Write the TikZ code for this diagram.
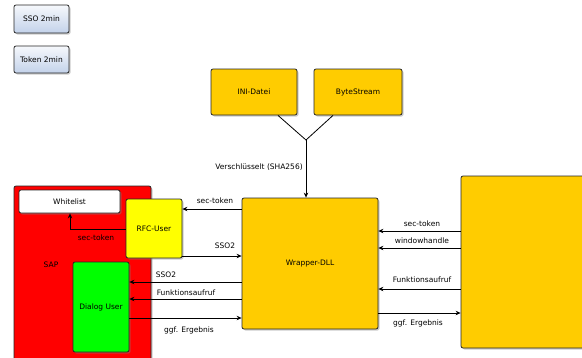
\documentclass[tikz,border=0pt]{standalone}
\usepackage{fontspec}
\setmainfont{DejaVu Sans}
\usetikzlibrary{shadows,arrows.meta}

\definecolor{dllgelb}{HTML}{FFCC00}
\definecolor{rfcgelb}{HTML}{FFFF00}
\definecolor{dialoggruen}{HTML}{00FF00}
\definecolor{saprot}{HTML}{FF0000}
\definecolor{hellblau}{HTML}{C3D2EA}

\begin{document}
\begin{tikzpicture}[x=1pt, y=-1pt,
    font=\fontsize{7.5}{9}\selectfont,
    box/.style={draw=black!85, line width=0.8pt, rounded corners=2pt, inner sep=0pt,
        drop shadow={shadow xshift=1.5pt, shadow yshift=-1.5pt, opacity=0.4}},
    conn/.style={-{Stealth[length=5pt, width=4.5pt]}, line width=0.8pt},
    lbl/.style={inner sep=0pt}]
    \useasboundingbox (0,0) rectangle (582,357);

    % Legende
    \node[box, top color=white!85!hellblau, bottom color=hellblau, minimum width=55pt, minimum height=28pt] (sso) at (41.5,19) {SSO 2min};
    \node[box, top color=white!85!hellblau, bottom color=hellblau, minimum width=55pt, minimum height=27pt] (token) at (41.5,59.5) {Token 2min};

    % Eingaben
    \node[box, fill=dllgelb, minimum width=86pt, minimum height=46pt] (ini) at (254,92) {INI-Datei};
    \node[box, fill=dllgelb, minimum width=88pt, minimum height=46pt] (byte) at (358,92) {ByteStream};

    % DLL und Anwendung
    \node[box, fill=dllgelb, minimum width=136pt, minimum height=131pt] (wrap) at (310,263.5) {Wrapper-DLL};
    \node[box, fill=dllgelb, minimum width=160pt, minimum height=172pt] (app) at (541,262) {};

    % SAP
    \node[box, fill=saprot, minimum width=137pt, minimum height=194pt] (sap) at (82.5,283) {};
    \node[lbl] (saplbl) at (51,265) {SAP};
    \node[box, fill=white, minimum width=101pt, minimum height=23pt] (white) at (69.5,201.5) {Whitelist};
    \node[box, fill=rfcgelb, minimum width=56pt, minimum height=59pt] (rfc) at (154,228.5) {RFC-User};
    \node[box, fill=dialoggruen, minimum width=56pt, minimum height=90pt] (dialog) at (101,307) {Dialog User};

    % Verschluesselung
    \coordinate (j) at (306,140);
    \draw[line width=0.8pt] ([xshift=24pt]ini.south) -- (j) -- ([xshift=-25pt]byte.south);
    \draw[conn] (j) -- (j |- wrap.north);
    \node[lbl] (sha) at (259,167) {Verschlüsselt (SHA256)};

    % SAP <-> DLL
    \coordinate (knick) at (70,229);
    \draw[conn] (rfc.west |- knick) -- (knick) -- (knick |- white.south);
    \node[lbl] (wl) at (96,238) {sec-token};
    \draw[conn] (wrap.west |- 0,209) -- (rfc.east |- 0,209);
    \node[lbl] (l1) at (215,201) {sec-token};
    \draw[conn] (rfc.east |- 0,256) -- (wrap.west |- 0,256);
    \node[lbl] (l2) at (225,246) {SSO2};
    \draw[conn] (wrap.west |- 0,282) -- (dialog.east |- 0,282);
    \node[lbl] (l3) at (166,275) {SSO2};
    \draw[conn] (wrap.west |- 0,299) -- (dialog.east |- 0,299);
    \node[lbl] (l4) at (186,293) {Funktionsaufruf};
    \draw[conn] (dialog.east |- 0,318) -- (wrap.west |- 0,318);
    \node[lbl] (l5) at (189,330) {ggf. Ergebnis};

    % DLL <-> Anwendung
    \draw[conn] (app.west |- 0,231) -- (wrap.east |- 0,231);
    \node[lbl] (r1) at (422,224) {sec-token};
    \draw[conn] (app.west |- 0,248) -- (wrap.east |- 0,248);
    \node[lbl] (r2) at (422,241) {windowhandle};
    \draw[conn] (app.west |- 0,289) -- (wrap.east |- 0,289);
    \node[lbl] (r3) at (422,280) {Funktionsaufruf};
    \draw[conn] (wrap.east |- 0,313) -- (app.west |- 0,313);
    \node[lbl] (r4) at (418,323) {ggf. Ergebnis};
\end{tikzpicture}
\end{document}
